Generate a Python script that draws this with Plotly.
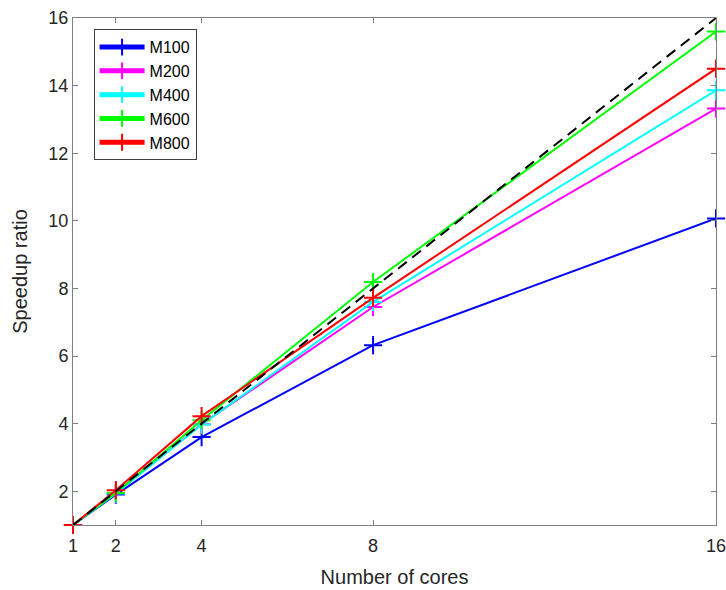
import plotly.graph_objects as go

cores = [1, 2, 4, 8, 16]
m100 = [1.0, 1.90, 3.60, 6.32, 10.07]
m200 = [1.0, 1.95, 3.98, 7.45, 13.32]
m400 = [1.0, 1.93, 3.97, 7.60, 13.86]
m600 = [1.0, 1.95, 4.10, 8.19, 15.60]
m800 = [1.0, 2.03, 4.22, 7.72, 14.50]
ideal = [1, 2, 4, 8, 16]

series = [
    ("M100", m100, "#0000ff"),
    ("M200", m200, "#ff00ff"),
    ("M400", m400, "#00ffff"),
    ("M600", m600, "#00ff00"),
    ("M800", m800, "#ff0000"),
]

FONT = "Liberation Sans, Arial, sans-serif"

fig = go.Figure()
for name, vals, color in series:
    fig.add_trace(go.Scatter(
        x=cores, y=vals, name=name, mode="lines+markers", cliponaxis=False,
        line=dict(color=color, width=2),
        marker=dict(symbol="cross-thin", size=13, line=dict(color=color, width=2)),
    ))

# ideal linear speedup reference
fig.add_trace(go.Scatter(
    x=cores, y=ideal, mode="lines", showlegend=False, cliponaxis=False,
    line=dict(color="black", width=2, dash="11px,7px"),
))

axis_common = dict(
    showline=True, linecolor="#808080", linewidth=1, mirror="ticks",
    ticks="inside", ticklen=5, tickcolor="#808080",
    showgrid=False, zeroline=False, automargin=False,
    ticklabeloverflow="allow",
    tickfont=dict(family=FONT, size=18, color="#262626"),
)

fig.update_xaxes(
    range=[1, 16], tickvals=cores, ticktext=[str(c) for c in cores],
    ticklabelstandoff=4,
    title=dict(text="Number of cores", font=dict(size=20, color="#262626", family=FONT)),
    **axis_common,
)
fig.update_yaxes(
    range=[1, 16], tickvals=[2, 4, 6, 8, 10, 12, 14, 16],
    title=dict(text="Speedup ratio", font=dict(size=20, color="#262626", family=FONT)),
    **axis_common,
)

fig.update_layout(
    width=726, height=590,
    margin=dict(l=73, r=10, t=18, b=65),
    plot_bgcolor="white", paper_bgcolor="white",
    legend=dict(
        x=0.032, y=0.978, xanchor="left", yanchor="top",
        bordercolor="#404040", borderwidth=1, bgcolor="white",
        font=dict(family=FONT, size=16, color="black"),
        tracegroupgap=0, itemsizing="constant", itemwidth=45,
    ),
)

fig.write_html("out.html")
